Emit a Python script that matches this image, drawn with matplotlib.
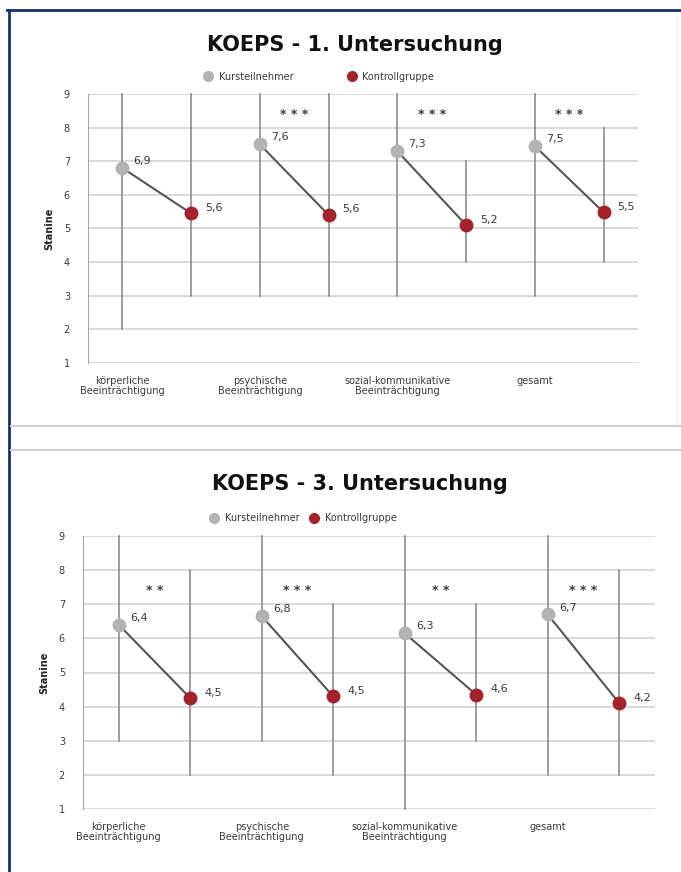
import matplotlib.pyplot as plt
from matplotlib.lines import Line2D

plt.rcParams['font.family'] = ['DejaVu Sans']

kategorien = ["körperliche\nBeeinträchtigung", "psychische\nBeeinträchtigung",
              "sozial-kommunikative\nBeeinträchtigung", "gesamt"]

# 1. Untersuchung
u1_kurs = [6.8, 7.5, 7.3, 7.45]
u1_kontroll = [5.45, 5.4, 5.1, 5.48]
u1_kurs_lbl = ["6,9", "7,6", "7,3", "7,5"]
u1_kontroll_lbl = ["5,6", "5,6", "5,2", "5,5"]
u1_kurs_min = [2, 3, 3, 3]
u1_kurs_max = [9, 9, 9, 9]
u1_kontroll_min = [3, 3, 4, 4]
u1_kontroll_max = [9, 9, 7, 8]
u1_sig = ["", "* * *", "* * *", "* * *"]

# 3. Untersuchung
u3_kurs = [6.4, 6.65, 6.15, 6.7]
u3_kontroll = [4.25, 4.3, 4.35, 4.1]
u3_kurs_lbl = ["6,4", "6,8", "6,3", "6,7"]
u3_kontroll_lbl = ["4,5", "4,5", "4,6", "4,2"]
u3_kurs_min = [3, 3, 1, 2]
u3_kurs_max = [9, 9, 9, 9]
u3_kontroll_min = [2, 2, 3, 2]
u3_kontroll_max = [8, 7, 7, 8]
u3_sig = ["* *", "* * *", "* *", "* * *"]

c_kurs = '#b3b3b3'
c_kontroll = '#a3222b'
c_text = '#3a3a3a'


def panel(ax, kurs, kontroll, kurs_lbl, kontroll_lbl, kmin, kmax, cmin, cmax, sig, sig_y,
          legend_x, legend_gap):
    ax.set_xlim(0, 4)
    ax.set_ylim(1, 9)
    for y in range(1, 10):
        ax.axhline(y, color='#d9d9d9', lw=1.4, zorder=0)
    for i in range(4):
        xk = i + 0.25
        xc = i + 0.75
        ax.plot([xk, xk], [kmin[i], kmax[i]], color='#8c8c8c', lw=1.2, zorder=1, clip_on=False)
        ax.plot([xc, xc], [cmin[i], cmax[i]], color='#8c8c8c', lw=1.2, zorder=1, clip_on=False)
        ax.plot([xk, xc], [kurs[i], kontroll[i]], color='#555555', lw=1.5, zorder=2)
        ax.plot(xk, kurs[i], 'o', color=c_kurs, ms=9, zorder=3)
        ax.plot(xc, kontroll[i], 'o', color=c_kontroll, ms=9, zorder=3)
        ax.annotate(kurs_lbl[i], (xk, kurs[i]), xytext=(8, 5), textcoords='offset points',
                    ha='left', va='center', fontsize=8, color=c_text)
        ax.annotate(kontroll_lbl[i], (xc, kontroll[i]), xytext=(10, 4), textcoords='offset points',
                    ha='left', va='center', fontsize=8, color=c_text)
        if sig[i]:
            ax.text(i + 0.5, sig_y, sig[i], ha='center', va='center', fontsize=9,
                    color=c_text, fontweight='bold')

    ax.set_xticks([i + 0.25 for i in range(4)])
    ax.set_xticklabels(kategorien, fontsize=7.5, color='#333333', linespacing=1.05, va='top')
    ax.set_yticks(range(1, 10))
    ax.tick_params(length=0, labelsize=7, colors=c_text)
    ax.tick_params(axis='y', pad=13)
    ax.tick_params(axis='x', pad=9)
    for s in ['top', 'right', 'bottom']:
        ax.spines[s].set_visible(False)
    ax.spines['left'].set_color('#a6a6a6')
    ax.set_ylabel('Stanine', fontsize=7, fontweight='bold', color='#222222', labelpad=7)

    handles = [Line2D([], [], marker='o', ls='', color=c_kurs, ms=7, label='Kursteilnehmer'),
               Line2D([], [], marker='o', ls='', color=c_kontroll, ms=7, label='Kontrollgruppe')]
    ax.legend(handles=handles, loc='center', bbox_to_anchor=(legend_x, 1.065), ncol=2,
              frameon=False, fontsize=7, handletextpad=0.1, columnspacing=legend_gap,
              labelcolor=c_text)


fig = plt.figure(figsize=(6.81, 8.72), dpi=100)

ax1 = fig.add_axes([88 / 681, 1 - 363 / 872, 550 / 681, 269 / 872])
panel(ax1, u1_kurs, u1_kontroll, u1_kurs_lbl, u1_kontroll_lbl,
      u1_kurs_min, u1_kurs_max, u1_kontroll_min, u1_kontroll_max, u1_sig, 8.4, 0.415, 5.0)

ax2 = fig.add_axes([83 / 681, 1 - 809 / 872, 572 / 681, 273 / 872])
panel(ax2, u3_kurs, u3_kontroll, u3_kurs_lbl, u3_kontroll_lbl,
      u3_kurs_min, u3_kurs_max, u3_kontroll_min, u3_kontroll_max, u3_sig, 7.4, 0.38, 0.5)

fig.text(355 / 681, 1 - 45 / 872, 'KOEPS - 1. Untersuchung', ha='center', va='center',
         fontsize=15, fontweight='bold', color='#111111')
fig.text(360 / 681, 1 - 484 / 872, 'KOEPS - 3. Untersuchung', ha='center', va='center',
         fontsize=15, fontweight='bold', color='#111111')

# Rahmen
navy = '#16306a'
fig.add_artist(Line2D([7 / 681, 1], [1 - 10 / 872, 1 - 10 / 872], color=navy, lw=2))
fig.add_artist(Line2D([9 / 681, 9 / 681], [0, 1 - 10 / 872], color=navy, lw=2))
for yp in [426, 450]:
    fig.add_artist(Line2D([11 / 681, 1], [1 - yp / 872, 1 - yp / 872], color='#cfcfcf', lw=1.6))
fig.add_artist(Line2D([677 / 681, 677 / 681], [1 - 424 / 872, 1 - 16 / 872], color='#eeeeee', lw=1))

fig.savefig('out.png', dpi=100)
